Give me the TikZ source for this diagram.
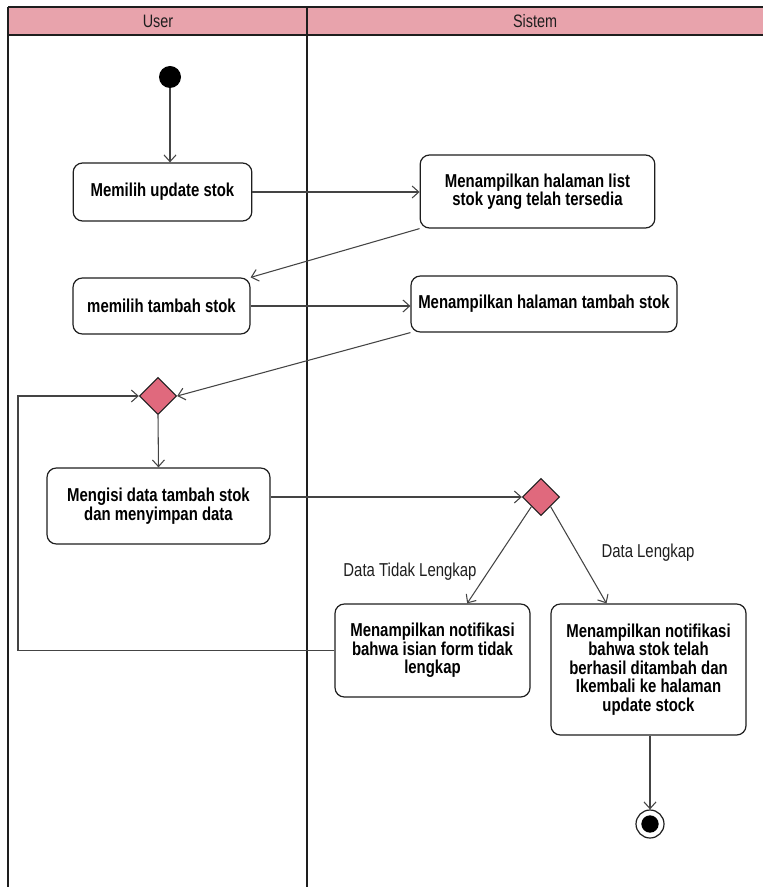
\documentclass[tikz,border=0pt]{standalone}
\usepackage{fontspec}
\setmainfont{Liberation Sans}[FakeStretch=0.8]
\usepackage{tikz}
\usetikzlibrary{arrows.meta,positioning,shapes.geometric}
\definecolor{lanehead}{HTML}{E8A3AC}
\definecolor{decfill}{HTML}{E0697D}
\definecolor{ink}{HTML}{1E1E1E}
\definecolor{wire}{HTML}{444444}

\begin{document}
\begin{tikzpicture}[x=0.75pt,y=-0.75pt,
    act/.style={rectangle,rounded corners=7pt,draw=ink,line width=0.9pt,fill=white,align=center,
      font=\fontsize{14}{13.8}\selectfont\bfseries,inner sep=2pt},
    dec/.style={diamond,draw=ink,fill=decfill,line width=0.8pt,inner sep=0pt,minimum size=28pt},
    flow/.style={-{Straight Barb[length=5pt,width=9pt]},wire,line width=0.8pt},
    guard/.style={font=\fontsize{14}{14}\selectfont,color=ink},
    lanetitle/.style={font=\fontsize{13.5}{14}\selectfont,color=ink}]
  \useasboundingbox (0,0) rectangle (763,887);
  \fill[lanehead] (8,7) rectangle (763,35);
  \draw[ink,line width=1.8pt] (8,7) -- (763,7);
  \draw[ink,line width=1.8pt] (8,35) -- (763,35);
  \foreach \x in {8,307} \draw[ink,line width=1.6pt] (\x,7) -- (\x,887);
  \node[lanetitle] (hUser) at (158,21) {User};
  \node[lanetitle] (hSistem) at (535,21) {Sistem};
  \node[circle,fill=black,minimum size=16.5pt,inner sep=0pt] (start) at (170,77) {};
  \node[act,minimum width=134pt,minimum height=43.5pt] (pilihUpdate) at (162.5,192) {Memilih update stok};
  \node[act,minimum width=176pt,minimum height=54.75pt] (listStok) at (537.5,191.5) {Menampilkan halaman list\\stok yang telah tersedia};
  \node[act,minimum width=132.75pt,minimum height=42pt] (pilihTambah) at (161.5,306) {memilih tambah stok};
  \node[act,minimum width=199.5pt,minimum height=42pt] (halTambah) at (544,304) {Menampilkan halaman tambah stok};
  \node[dec] (merge) at (158,396) {};
  \node[act,minimum width=167.25pt,minimum height=57pt] (isiData) at (158.5,506) {Mengisi data tambah stok\\dan menyimpan data};
  \node[dec] (cek) at (541,497) {};
  \node[act,minimum width=146.25pt,minimum height=69.75pt] (notifGagal) at (432.5,650.5) {Menampilkan notifikasi\\bahwa isian form tidak\\lengkap};
  \node[act,minimum width=146.25pt,minimum height=98.25pt] (notifBerhasil) at (648.5,669.5) {Menampilkan notifikasi\\bahwa stok telah\\berhasil ditambah dan\\Ikembali ke halaman\\update stock};
  \node[circle,draw=ink,line width=0.9pt,fill=white,minimum size=21pt,inner sep=0pt] (end) at (650,824) {};
  \node[circle,fill=black,minimum size=13pt,inner sep=0pt] (endDot) at (end) {};
  \node[guard] (gTidak) at (410,572) {Data Tidak Lengkap};
  \node[guard] (gLengkap) at (648,553) {Data Lengkap};
  \coordinate (back) at (18,650);
  \draw[flow] (start) -- (start |- pilihUpdate.north);
  \draw[flow] (pilihUpdate.east) -- (pilihUpdate.east -| listStok.west);
  \draw[flow] (listStok.south west) -- (pilihTambah.north east);
  \draw[flow] (pilihTambah.east) -- (pilihTambah.east -| halTambah.west);
  \draw[flow] (halTambah.south west) -- (merge.east);
  \draw[flow] (merge.south) -- (isiData.north);
  \draw[flow] (cek.west -| isiData.east) -- (cek.west);
  \draw[flow] (cek.south west) -- ([xshift=26pt]notifGagal.north);
  \draw[flow] (cek.south east) -- ([xshift=-31.5pt]notifBerhasil.north);
  \draw[flow] (notifGagal.west) -- (notifGagal.west -| back) |- (merge.west);
  \draw[flow] (end |- notifBerhasil.south) -- (end.north);
\end{tikzpicture}
\end{document}
